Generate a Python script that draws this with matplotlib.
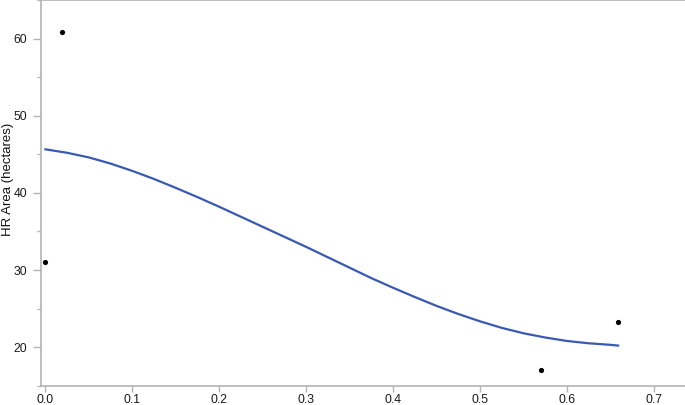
import numpy as np
import matplotlib
matplotlib.use("Agg")
from matplotlib import pyplot as plt
from matplotlib.ticker import MultipleLocator

# observed points
obs_x = [0.0, 0.019, 0.570, 0.659]
obs_y = [31.1, 60.9, 17.0, 23.3]

# fitted curve
fit_x = [0.0, 0.025, 0.05, 0.075, 0.1, 0.125, 0.15, 0.175, 0.2, 0.225,
         0.25, 0.275, 0.3, 0.325, 0.35, 0.375, 0.4, 0.425, 0.45, 0.475,
         0.5, 0.525, 0.55, 0.575, 0.6, 0.625, 0.65, 0.659]
fit_y = [45.65, 45.2, 44.6, 43.8, 42.85, 41.8, 40.65, 39.45, 38.2, 36.9,
         35.6, 34.3, 33.0, 31.65, 30.3, 28.95, 27.7, 26.5, 25.35, 24.3,
         23.35, 22.5, 21.8, 21.25, 20.8, 20.5, 20.3, 20.2]

x_ticks = [0.0, 0.1, 0.2, 0.3, 0.4, 0.5, 0.6, 0.7]
y_ticks = [20, 30, 40, 50, 60]

plt.rcParams["font.family"] = ["Liberation Sans", "DejaVu Sans"]

fig = plt.figure(figsize=(6.85, 4.05), dpi=100)
ax = fig.add_axes([0.0594, 0.0477, 0.9406, 0.952])

spine_col = "#b4b4b4"
ax.plot(fit_x, fit_y, color="#3a59b0", linewidth=1.6, zorder=2)
ax.scatter(obs_x, obs_y, s=14, color="black", zorder=3, linewidths=0)

ax.set_xlim(-0.0055, 0.736)
ax.set_ylim(15, 65)
ax.set_xticks(x_ticks)
ax.set_xticklabels([f"{v:.1f}" for v in x_ticks])
ax.set_yticks(y_ticks)
ax.yaxis.set_minor_locator(MultipleLocator(5))

for side in ["left", "bottom", "top"]:
    ax.spines[side].set_color(spine_col)
    ax.spines[side].set_linewidth(1.2)
ax.spines["right"].set_visible(False)

ax.tick_params(which="major", width=1, color=spine_col, labelsize=8.8, labelcolor="#1a1a1a")
ax.tick_params(axis="x", which="major", length=4.5, pad=1.5)
ax.tick_params(axis="y", which="major", length=6, pad=3.5)
ax.tick_params(which="minor", length=3, width=1, color=spine_col)

# y label placed inside the figure, as in the reference
fig.text(8 / 685, 1 - 179 / 405, "HR Area (hectares)", rotation=90,
         ha="center", va="center", fontsize=9.5, color="#111111",
         family=["Liberation Sans Narrow", "Liberation Sans", "DejaVu Sans"])

fig.savefig("out.png", dpi=100)
